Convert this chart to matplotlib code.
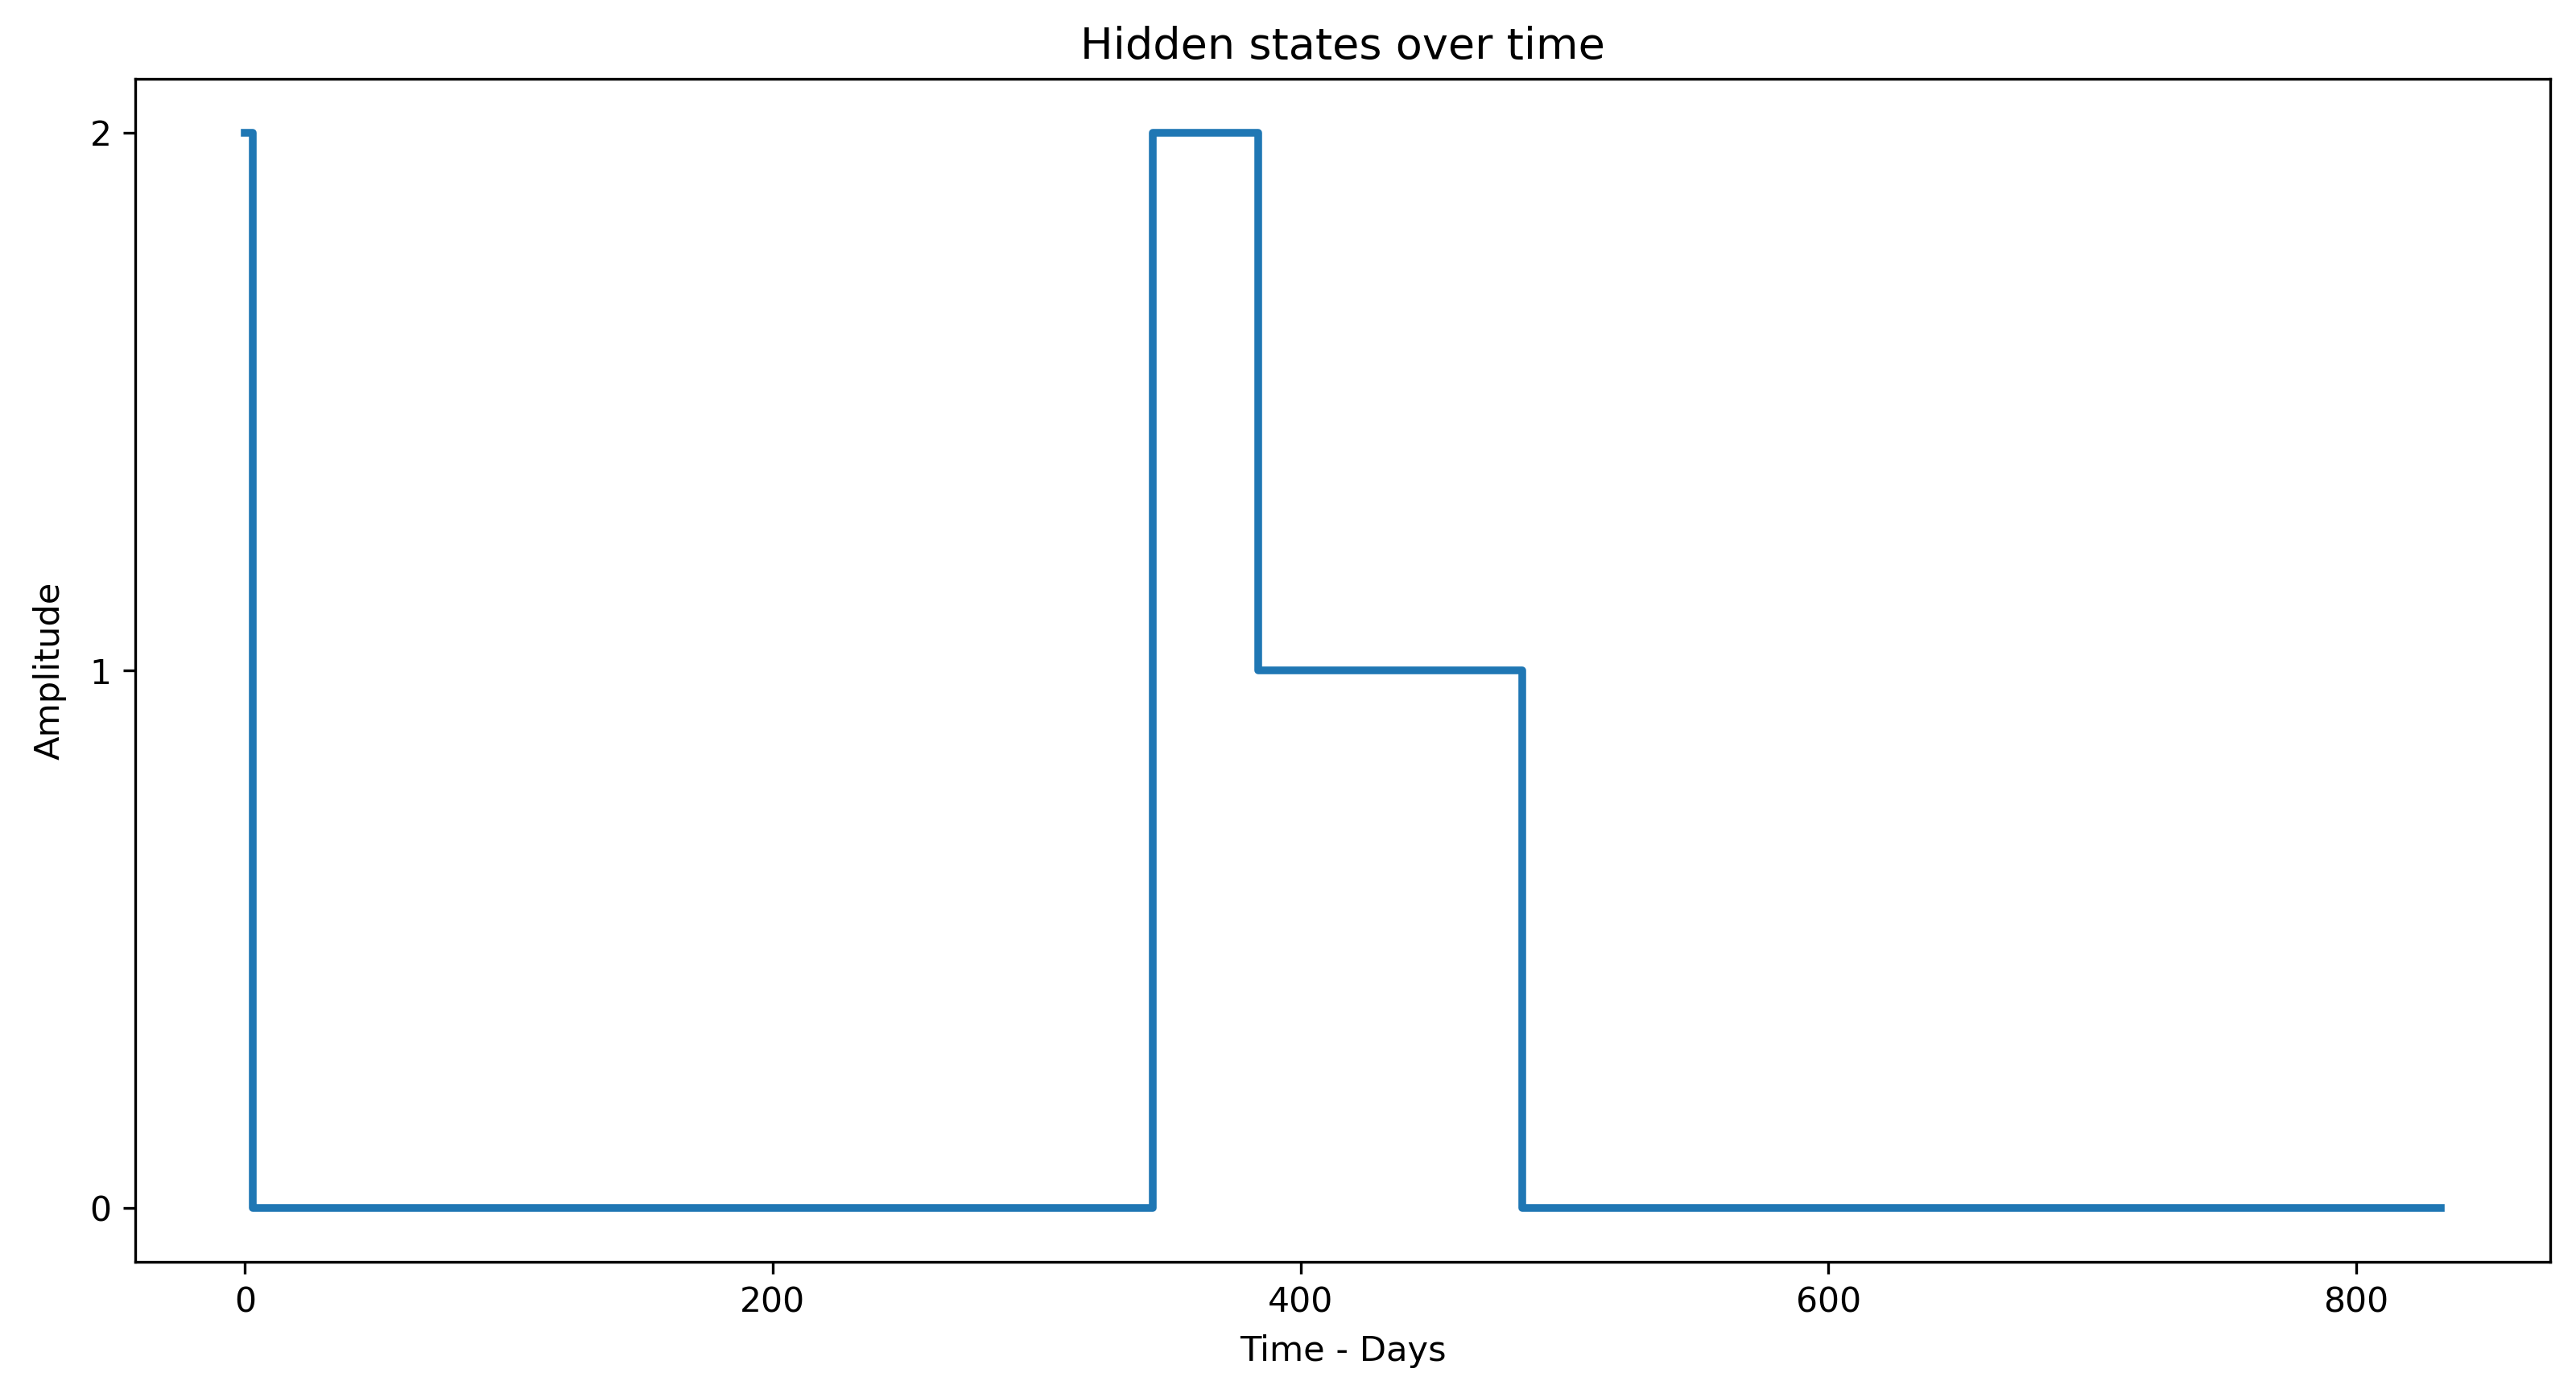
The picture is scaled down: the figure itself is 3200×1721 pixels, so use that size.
import matplotlib
matplotlib.use("Agg")
import matplotlib.pyplot as plt

# Hidden state sequence (state changes at these days)
change_days = [0, 3, 344, 384, 484, 832]
states = [2, 0, 2, 1, 0, 0]

fig = plt.figure(figsize=(10.667, 5.737), dpi=300)
ax = fig.add_axes([0.0525, 0.089, 0.9375, 0.854])
ax.plot(change_days, states, drawstyle="steps-post", color="#1f77b4", linewidth=2.3)
ax.set_yticks([0, 1, 2])
ax.set_title("Hidden states over time", fontsize=13)
ax.set_xlabel("Time - Days", fontsize=10.4, labelpad=4.5)
ax.set_ylabel("Amplitude", fontsize=10.4, labelpad=7)
ax.tick_params(labelsize=10.2)
fig.savefig("out.png", dpi=300)
